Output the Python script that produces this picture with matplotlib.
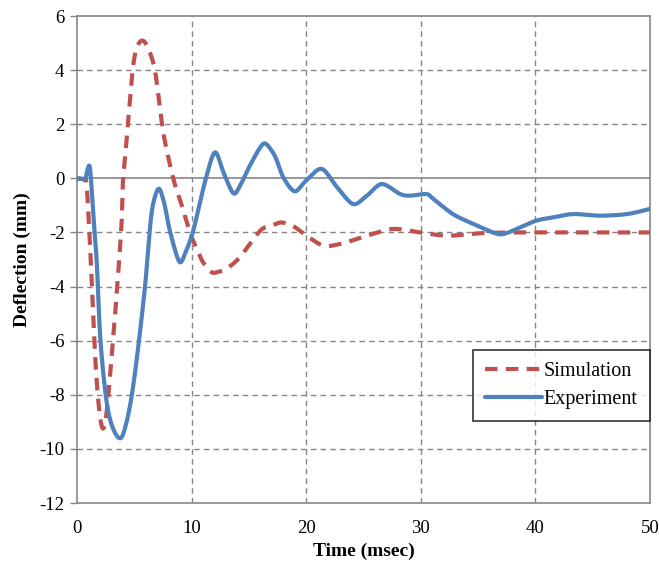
import matplotlib
matplotlib.use("Agg")
import matplotlib.pyplot as plt
import numpy as np

sim_x = [0, 0.6, 0.85, 1.2, 1.6, 1.95, 2.27, 2.6, 3.14, 3.6, 3.9, 4.0, 4.2, 4.4, 4.86, 5.2, 5.64, 6.1, 6.8, 7.5,
         8.4, 9.0, 9.86, 10.4, 11.0, 11.75, 12.4, 13.06, 14.2, 16.0, 17.0, 17.86, 19.0, 20.0, 21.5, 22.7,
         24.0, 25.3, 27.6, 29.9, 32.3, 35.2, 38.0, 42.0, 46.0, 50.0]
sim_y = [0, -0.05, -0.3, -3.0, -6.7, -8.6, -9.25, -8.6, -6.0, -3.5, -1.6, -0.2, 0.8, 1.76, 4.0, 4.8, 5.09, 4.9, 4.0, 1.76,
         0.0, -0.8, -2.0, -2.55, -3.1, -3.47, -3.45, -3.34, -2.92, -1.93, -1.75, -1.63, -1.8, -2.12, -2.49, -2.45,
         -2.3, -2.12, -1.87, -2.0, -2.12, -2.03, -2.0, -2.0, -2.0, -2.0]

exp_x = [0, 0.7, 0.9, 1.07, 1.2, 1.5, 1.72, 2.05, 2.6, 3.2, 3.9, 4.6, 5.2, 5.93, 6.5, 7.1, 7.6, 8.1, 8.93, 9.5,
         10.15, 11.2, 12.04, 12.8, 13.64, 14.2, 15.0, 16.0, 16.5, 17.3, 18.0, 19.0, 20.0, 21.35, 22.7, 24.1, 25.3,
         26.6, 28.2, 29.06, 30.5, 31.1, 32.8, 34.6, 36.3, 37.2, 38.7, 40.1, 41.6, 43.3, 45.6, 48.0, 50.0]
exp_y = [0, 0.0, 0.3, 0.47, 0.1, -1.8, -3.04, -6.0, -8.3, -9.3, -9.57, -8.47, -6.74, -4.03, -1.32, -0.39, -0.9, -1.93, -3.08, -2.7,
         -1.93, -0.08, 0.96, 0.2, -0.55, -0.3, 0.4, 1.15, 1.27, 0.8, 0.04, -0.48, -0.08, 0.35, -0.33, -0.95, -0.64,
         -0.21, -0.58, -0.64, -0.58, -0.76, -1.32, -1.69, -2.0, -2.06, -1.81, -1.56, -1.44, -1.32, -1.38, -1.32, -1.13]

x_ticks = [0, 10, 20, 30, 40, 50]
y_ticks = [-12, -10, -8, -6, -4, -2, 0, 2, 4, 6]


def smooth(xs, ys, per=30):
    # Catmull-Rom style smoothing (like a spreadsheet "smoothed line") through the read points
    P = np.column_stack([xs, ys]).astype(float)
    P = np.vstack([P[0], P, P[-1]])
    out = []
    t = np.linspace(0, 1, per, endpoint=False)[:, None]
    for i in range(1, len(P) - 2):
        p0, p1, p2, p3 = P[i - 1], P[i], P[i + 1], P[i + 2]
        m1 = (p2 - p0) / 2 * 0.9
        m2 = (p3 - p1) / 2 * 0.9
        h00 = 2 * t**3 - 3 * t**2 + 1; h10 = t**3 - 2 * t**2 + t
        h01 = -2 * t**3 + 3 * t**2; h11 = t**3 - t**2
        out.append(h00 * p1 + h10 * m1 + h01 * p2 + h11 * m2)
    out.append(P[-2][None, :])
    out = np.vstack(out)
    return out[:, 0], out[:, 1]


plt.rcParams['font.family'] = ['Liberation Serif', 'DejaVu Serif']
plt.rcParams['axes.unicode_minus'] = False

fig = plt.figure(figsize=(6.59, 5.66), dpi=100)
ax = fig.add_axes([0.1168, 0.1113, 0.8695, 0.8604])

grid_c = '#868686'
for xv in x_ticks[1:-1]:
    ax.axvline(xv, color=grid_c, lw=1.0, ls=(0, (4, 3)), zorder=1)
for yv in y_ticks[1:-1]:
    if yv == 0:
        ax.axhline(yv, color=grid_c, lw=1.2, zorder=1)
    else:
        ax.axhline(yv, color=grid_c, lw=1.0, ls=(0, (4, 3)), zorder=1)

sx, sy = smooth(sim_x, sim_y)
ex, ey = smooth(exp_x, exp_y)
ax.plot(sx, sy, color='#C0504D', lw=3.0, ls=(0, (3.0, 2.0)), label='Simulation', zorder=3,
        solid_capstyle='butt', dash_capstyle='butt')
ax.plot(ex, ey, color='#4F81BD', lw=3.0, label='Experiment', zorder=3, solid_capstyle='round')

ax.set_xlim(0, 50)
ax.set_ylim(-12, 6)
ax.set_xticks(x_ticks)
ax.set_yticks(y_ticks)
ax.tick_params(axis='x', length=0, pad=12, labelsize=13.5)
ax.tick_params(axis='y', length=5, color=grid_c, width=1.0, pad=4, labelsize=13.5)
for s in ax.spines.values():
    s.set_color(grid_c)
    s.set_linewidth(1.2)

ax.set_xlabel('Time (msec)', fontsize=14, fontweight='bold', labelpad=4)
ax.set_ylabel('Deflection (mm)', fontsize=14, fontweight='bold', labelpad=6)

leg = ax.legend(loc='lower right', bbox_to_anchor=(0.9997, 0.168), fontsize=14.5, frameon=True, fancybox=False,
                edgecolor='black', handlelength=2.8, handletextpad=0.1, borderpad=0.6, labelspacing=0.45,
                borderaxespad=0)
leg.get_frame().set_linewidth(1.2)

fig.savefig('out.png', dpi=100)
